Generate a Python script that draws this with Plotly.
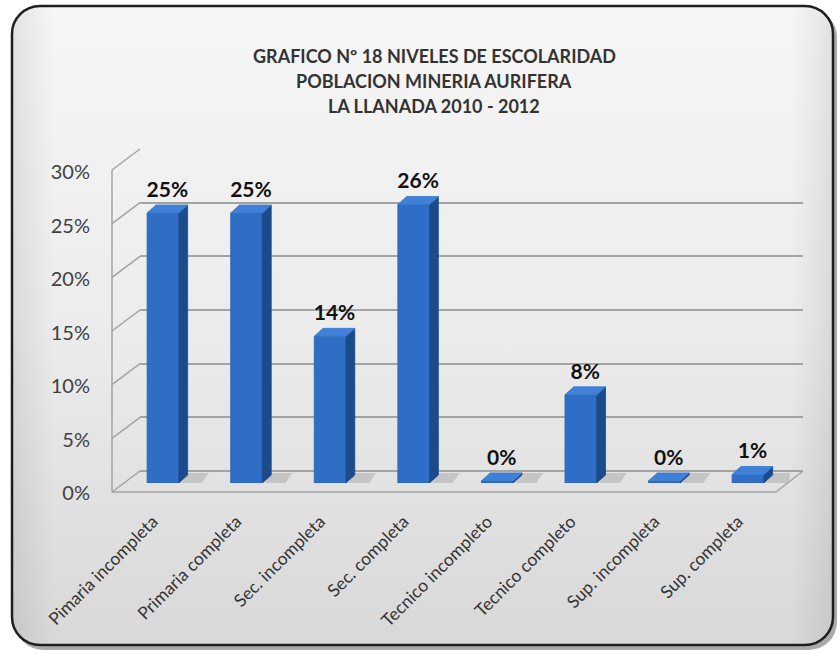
import base64
import plotly.graph_objects as go

categories = ["Pimaria incompleta", "Primaria completa", "Sec. incompleta", "Sec. completa",
              "Tecnico incompleto", "Tecnico completo", "Sup. incompleta", "Sup. completa"]
values = [25.4, 25.4, 13.8, 26.2, 0.2, 8.3, 0.2, 0.8]  # percent
y_ticks = [0, 5, 10, 15, 20, 25, 30]
title_lines = ["GRAFICO Nº 18 NIVELES DE ESCOLARIDAD", "POBLACION MINERIA AURIFERA", "LA LLANADA 2010 - 2012"]

W, H = 840, 654
def px(x): return x / W
def py(y): return 1 - y / H

FONT = "Lato, 'Open Sans', sans-serif"

# geometry (styling)
hw = 0.19          # half bar width in category units
dx = 0.105         # depth offset in category units
dy = 0.75          # depth offset in percent units

front_x, front_y, side_x, side_y, top_x, top_y = [], [], [], [], [], []
sh_x, sh_y = [], []
for i, v in enumerate(values):
    front_x += [i - hw, i + hw, i + hw, i - hw, i - hw, None]
    front_y += [0, 0, v, v, 0, None]
    side_x += [i + hw, i + hw + dx, i + hw + dx, i + hw, i + hw, None]
    side_y += [0, dy, v + dy, v, 0, None]
    top_x += [i - hw, i + hw, i + hw + dx, i - hw + dx, i - hw, None]
    top_y += [v, v, v + dy, v + dy, v, None]
    sh_x += [i + hw, i + hw + 2.4 * dx, i + hw + 3.4 * dx, i + hw + dx, i + hw, None]
    sh_y += [-0.3, -0.3, dy + 0.2, dy + 0.2, -0.3, None]

def frac(lst):
    return [s / 100 if s is not None else None for s in lst]

fig = go.Figure()
fig.add_trace(go.Scatter(x=[0], y=[0], xaxis="x", yaxis="y", mode="markers",
                         marker=dict(opacity=0), hoverinfo="skip", showlegend=False))
fig.add_trace(go.Scatter(x=sh_x, y=frac(sh_y), xaxis="x2", yaxis="y2",
                         mode="lines", fill="toself", fillcolor="rgba(90,90,90,0.22)",
                         line=dict(width=0), hoverinfo="skip", showlegend=False))
fig.add_trace(go.Scatter(x=front_x, y=frac(front_y), xaxis="x2", yaxis="y2",
                         mode="lines", fill="toself", fillcolor="#2f6ec6",
                         line=dict(width=0.8, color="#2a63b3"), hoverinfo="skip", showlegend=False))
fig.add_trace(go.Scatter(x=side_x, y=frac(side_y), xaxis="x2", yaxis="y2",
                         mode="lines", fill="toself", fillcolor="#1c4b8c",
                         line=dict(width=0.8, color="#1c4b8c"), hoverinfo="skip", showlegend=False))
fig.add_trace(go.Scatter(x=top_x, y=frac(top_y), xaxis="x2", yaxis="y2",
                         mode="lines", fill="toself", fillcolor="#3f80d8",
                         line=dict(width=0.8, color="#3a78cc"), hoverinfo="skip", showlegend=False))
fig.add_trace(go.Scatter(x=[i + dx / 2 for i in range(len(values))],
                         y=[(v + dy) / 100 + 0.0125 for v in values],
                         xaxis="x2", yaxis="y2", mode="text",
                         text=[f"<b>{round(v)}%</b>" for v in values],
                         textfont=dict(family=FONT, size=21, color="#111111"),
                         textposition="middle center", hoverinfo="skip", showlegend=False))
fig.add_trace(go.Scatter(x=[0], y=[0], xaxis="x2", yaxis="y3", mode="markers",
                         marker=dict(opacity=0), hoverinfo="skip", showlegend=False))

svg = f'''<svg xmlns="http://www.w3.org/2000/svg" width="{W}" height="{H}">
<defs>
<linearGradient id="g" x1="0" y1="0" x2="0" y2="1">
<stop offset="0" stop-color="#f6f6f6"/><stop offset="0.5" stop-color="#ececec"/><stop offset="1" stop-color="#d8d8d8"/>
</linearGradient>
<linearGradient id="h" x1="0" y1="0" x2="1" y2="0">
<stop offset="0" stop-color="#000" stop-opacity="0.08"/><stop offset="0.05" stop-color="#000" stop-opacity="0"/>
<stop offset="0.95" stop-color="#000" stop-opacity="0"/><stop offset="1" stop-color="#000" stop-opacity="0.08"/>
</linearGradient>
</defs>
<rect x="0" y="0" width="{W}" height="{H}" fill="#ffffff"/>
<rect x="15" y="9" width="822" height="641" rx="28" ry="28" fill="#555" opacity="0.5"/>
<rect x="12" y="6" width="821" height="639" rx="28" ry="28" fill="url(#g)" stroke="#1e1e1e" stroke-width="2.5"/>
<rect x="13" y="7" width="819" height="637" rx="27" ry="27" fill="url(#h)"/>
</svg>'''
src = "data:image/svg+xml;base64," + base64.b64encode(svg.encode()).decode()

shapes = []
LC = "#a3a3a3"
step = (492 - 170) / 6
for k in range(7):
    shapes.append(dict(type="line", xref="paper", yref="paper", x0=px(112), y0=py(492 - k * step),
                       x1=px(140), y1=py(471 - k * step), line=dict(color=LC, width=1.5), layer="below"))
shapes.append(dict(type="line", xref="paper", yref="paper", x0=px(112), y0=py(492), x1=px(112), y1=py(170),
                   line=dict(color=LC, width=1.5), layer="below"))
shapes.append(dict(type="line", xref="paper", yref="paper", x0=px(112), y0=py(492), x1=px(776), y1=py(492),
                   line=dict(color=LC, width=1.5), layer="below"))
shapes.append(dict(type="line", xref="paper", yref="paper", x0=px(776), y0=py(492), x1=px(803), y1=py(471),
                   line=dict(color=LC, width=1.5), layer="below"))

annotations = []
for j, t in enumerate(title_lines):
    annotations.append(dict(text=f"<b>{t}</b>", xref="paper", yref="paper", x=px(434), y=py(56 + 25 * j),
                            xanchor="center", yanchor="middle", showarrow=False,
                            font=dict(family=FONT, size=18, color="#333333")))

fig.update_layout(
    width=W, height=H, margin=dict(l=0, r=0, t=0, b=0, pad=0, autoexpand=False),
    paper_bgcolor="rgba(0,0,0,0)", plot_bgcolor="rgba(0,0,0,0)",
    images=[dict(source=src, xref="paper", yref="paper", x=0, y=1, sizex=1, sizey=1,
                 sizing="stretch", layer="below", xanchor="left", yanchor="top")],
    shapes=shapes, annotations=annotations,
    xaxis=dict(domain=[px(140), px(803)], range=[0, 1], visible=False, anchor="y", automargin=False),
    yaxis=dict(domain=[py(471), py(149)], range=[0, 0.30], anchor="x", showgrid=True, automargin=False,
               gridcolor=LC, gridwidth=1.5, zeroline=True, zerolinecolor=LC, zerolinewidth=1.5,
               tickvals=[t / 100 for t in y_ticks], showticklabels=False, ticks="", showline=False),
    xaxis2=dict(domain=[px(121.2), px(789.8)], range=[-0.5, len(categories) - 0.5], anchor="y2",
                tickvals=list(range(len(categories))), ticktext=categories, tickangle=-45, automargin=False,
                tickfont=dict(family=FONT, size=17.5, color="#333333"), showgrid=False, zeroline=False,
                showline=False, ticks="", ticklabelstandoff=24, ticklabelshift=-10),
    yaxis2=dict(domain=[py(483), py(164.1)], range=[0, 0.30], anchor="x2", visible=False, automargin=False),
    yaxis3=dict(domain=[py(493), py(172)], range=[0, 0.30], anchor="free", position=px(112), automargin=False,
                tickvals=[t / 100 for t in y_ticks], ticktext=[f"{t}%" for t in y_ticks],
                tickfont=dict(family=FONT, size=20, color="#404040"), showgrid=False, zeroline=False,
                showline=False, ticks="", ticklabelstandoff=22),
)

fig.write_html("out.html", config={"displayModeBar": False},
               post_script="document.body.style.margin='0';document.body.style.overflow='hidden';")
